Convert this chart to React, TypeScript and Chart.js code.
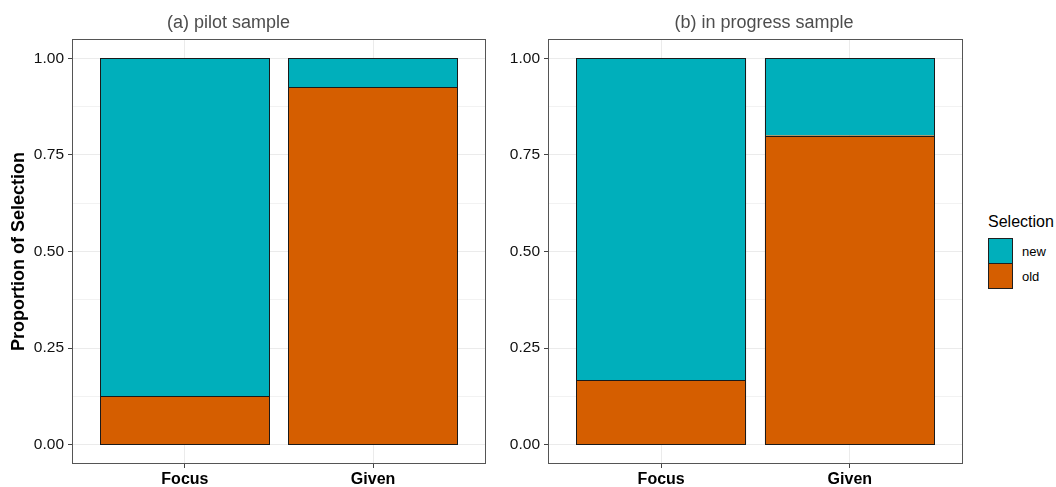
import React, { useEffect, useRef } from 'react';
import { Chart, registerables } from 'chart.js';

Chart.register(...registerables);

// ---- data ----
const categories = ['Focus', 'Given'];
const seriesNames = ['new', 'old'];
const seriesColors = ['#00AFBB', '#D55E00'];
const pilotOld = [0.125, 0.925];
const pilotNew = [0.875, 0.075];
const progressOld = [0.1667, 0.8];
const progressNew = [0.8333, 0.2];
const yTickValues = [0, 0.25, 0.5, 0.75, 1];
const yMinorValues = [0.125, 0.375, 0.625, 0.875];
const panelTitles = ['(a) pilot sample', '(b) in progress sample'];
const yAxisTitle = 'Proportion of Selection';
const legendTitle = 'Selection';

const FONT = "'Liberation Sans', Arial, Helvetica, sans-serif";

const isMajor = (v: number) => yTickValues.some((t) => Math.abs(t - v) < 1e-6);

// outlines bars (using the element geometry computed by Chart.js) and frames the panel
const outlinePlugin = {
  id: 'panelFrame',
  afterDatasetsDraw(chart: any) {
    const { ctx, chartArea } = chart;
    ctx.save();
    ctx.strokeStyle = '#1a1a1a';
    ctx.lineWidth = 1;
    chart.data.datasets.forEach((_: any, di: number) => {
      const meta = chart.getDatasetMeta(di);
      meta.data.forEach((el: any) => {
        const { x, y, base, width } = el.getProps(['x', 'y', 'base', 'width'], true);
        const l = Math.round(x - width / 2) + 0.5;
        const r = Math.round(x + width / 2) - 0.5;
        const t = Math.round(Math.min(y, base)) + 0.5;
        const b = Math.round(Math.max(y, base)) + 0.5;
        ctx.strokeRect(l, t, r - l, b - t);
      });
    });
    const { left, top, right, bottom } = chartArea;
    ctx.strokeStyle = '#555555';
    ctx.strokeRect(left + 0.5, top + 0.5, right - left - 1, bottom - top - 1);
    ctx.restore();
  },
};

function buildConfig(oldVals: number[], newVals: number[], yWidth: number, showYTitle: boolean): any {
  const toPoints = (vals: number[]) => vals.map((v, i) => ({ x: i + 1, y: v }));
  return {
    type: 'bar',
    data: {
      datasets: [
        {
          label: seriesNames[1],
          data: toPoints(oldVals),
          backgroundColor: seriesColors[1],
          borderWidth: 0,
          barPercentage: 0.9,
          categoryPercentage: 1,
          stack: 's',
        },
        {
          label: seriesNames[0],
          data: toPoints(newVals),
          backgroundColor: seriesColors[0],
          borderWidth: 0,
          barPercentage: 0.9,
          categoryPercentage: 1,
          stack: 's',
        },
      ],
    },
    options: {
      responsive: false,
      animation: false,
      events: [],
      layout: { padding: { top: 39, right: 4, bottom: 0, left: 0 } },
      plugins: {
        legend: { display: false },
        tooltip: { enabled: false },
        title: { display: false },
      },
      scales: {
        x: {
          type: 'linear',
          min: 0.4,
          max: 2.6,
          stacked: true,
          offset: false,
          afterBuildTicks: (s: any) => {
            s.ticks = categories.map((_, i) => ({ value: i + 1 }));
          },
          afterFit: (s: any) => {
            s.height = 23;
          },
          ticks: {
            autoSkip: false,
            maxRotation: 0,
            padding: 2,
            color: '#000000',
            font: { family: FONT, size: 16, weight: 'bold' },
            callback: (v: any) => categories[Math.round(Number(v)) - 1] ?? '',
          },
          grid: {
            offset: false,
            color: '#EBEBEB',
            lineWidth: 1,
            tickColor: '#444444',
            tickLength: 4,
          },
          border: { display: false },
        },
        y: {
          type: 'linear',
          min: -0.05,
          max: 1.05,
          stacked: true,
          afterBuildTicks: (s: any) => {
            s.ticks = [...yTickValues, ...yMinorValues]
              .sort((a, b) => a - b)
              .map((v) => ({ value: v }));
          },
          afterFit: (s: any) => {
            s.width = yWidth;
          },
          ticks: {
            autoSkip: false,
            padding: 4,
            color: '#111111',
            font: { family: FONT, size: 15.5 },
            callback: (v: any) => (isMajor(Number(v)) ? Number(v).toFixed(2) : ''),
          },
          grid: {
            color: (c: any) => (c.tick && isMajor(c.tick.value) ? '#EBEBEB' : '#F2F2F2'),
            lineWidth: 1,
            tickColor: (c: any) => (c.tick && isMajor(c.tick.value) ? '#444444' : 'rgba(0,0,0,0)'),
            tickLength: 4,
          },
          border: { display: false },
          title: {
            display: showYTitle,
            text: yAxisTitle,
            color: '#000000',
            font: { family: FONT, size: 18, weight: 'bold' },
            padding: { top: 8, bottom: 0 },
          },
        },
      },
    },
    plugins: [outlinePlugin],
  };
}

function Panel(props: {
  left: number;
  width: number;
  yWidth: number;
  oldVals: number[];
  newVals: number[];
  showYTitle: boolean;
}) {
  const ref = useRef<HTMLCanvasElement>(null);
  useEffect(() => {
    if (!ref.current) return;
    const chart = new Chart(ref.current, buildConfig(props.oldVals, props.newVals, props.yWidth, props.showYTitle));
    return () => chart.destroy();
  }, []);
  return (
    <canvas
      ref={ref}
      width={props.width}
      height={487}
      style={{ position: 'absolute', left: props.left, top: 0, display: 'block', width: props.width, height: 487 }}
    />
  );
}

const titleStyle: React.CSSProperties = {
  position: 'absolute',
  top: 13,
  fontFamily: FONT,
  fontSize: 18,
  lineHeight: '18px',
  color: '#4D4D4D',
  whiteSpace: 'nowrap',
  transform: 'translateX(-50%)',
};

export default function App() {
  return (
    <div style={{ position: 'absolute', left: 0, top: 0, width: 1056, height: 487, background: '#ffffff', overflow: 'hidden' }}>
      <Panel left={0} width={490} yWidth={72} oldVals={pilotOld} newVals={pilotNew} showYTitle={true} />
      <Panel left={490} width={477} yWidth={58} oldVals={progressOld} newVals={progressNew} showYTitle={false} />
      <div style={{ ...titleStyle, left: 228.5 }}>{panelTitles[0]}</div>
      <div style={{ ...titleStyle, left: 764 }}>{panelTitles[1]}</div>
      <div
        style={{
          position: 'absolute',
          left: 988,
          top: 214,
          fontFamily: FONT,
          fontSize: 16,
          lineHeight: '16px',
          color: '#000000',
          whiteSpace: 'nowrap',
        }}
      >
        {legendTitle}
      </div>
      {seriesNames.map((name, i) => (
        <React.Fragment key={name}>
          <div
            style={{
              position: 'absolute',
              left: 988,
              top: 238 + i * 25,
              width: 25,
              height: 26,
              boxSizing: 'border-box',
              border: '1px solid #1f1f1f',
              background: seriesColors[i],
            }}
          />
          <div
            style={{
              position: 'absolute',
              left: 1022,
              top: 244.5 + i * 25,
              fontFamily: FONT,
              fontSize: 13,
              lineHeight: '13px',
              color: '#000000',
              whiteSpace: 'nowrap',
            }}
          >
            {name}
          </div>
        </React.Fragment>
      ))}
    </div>
  );
}
